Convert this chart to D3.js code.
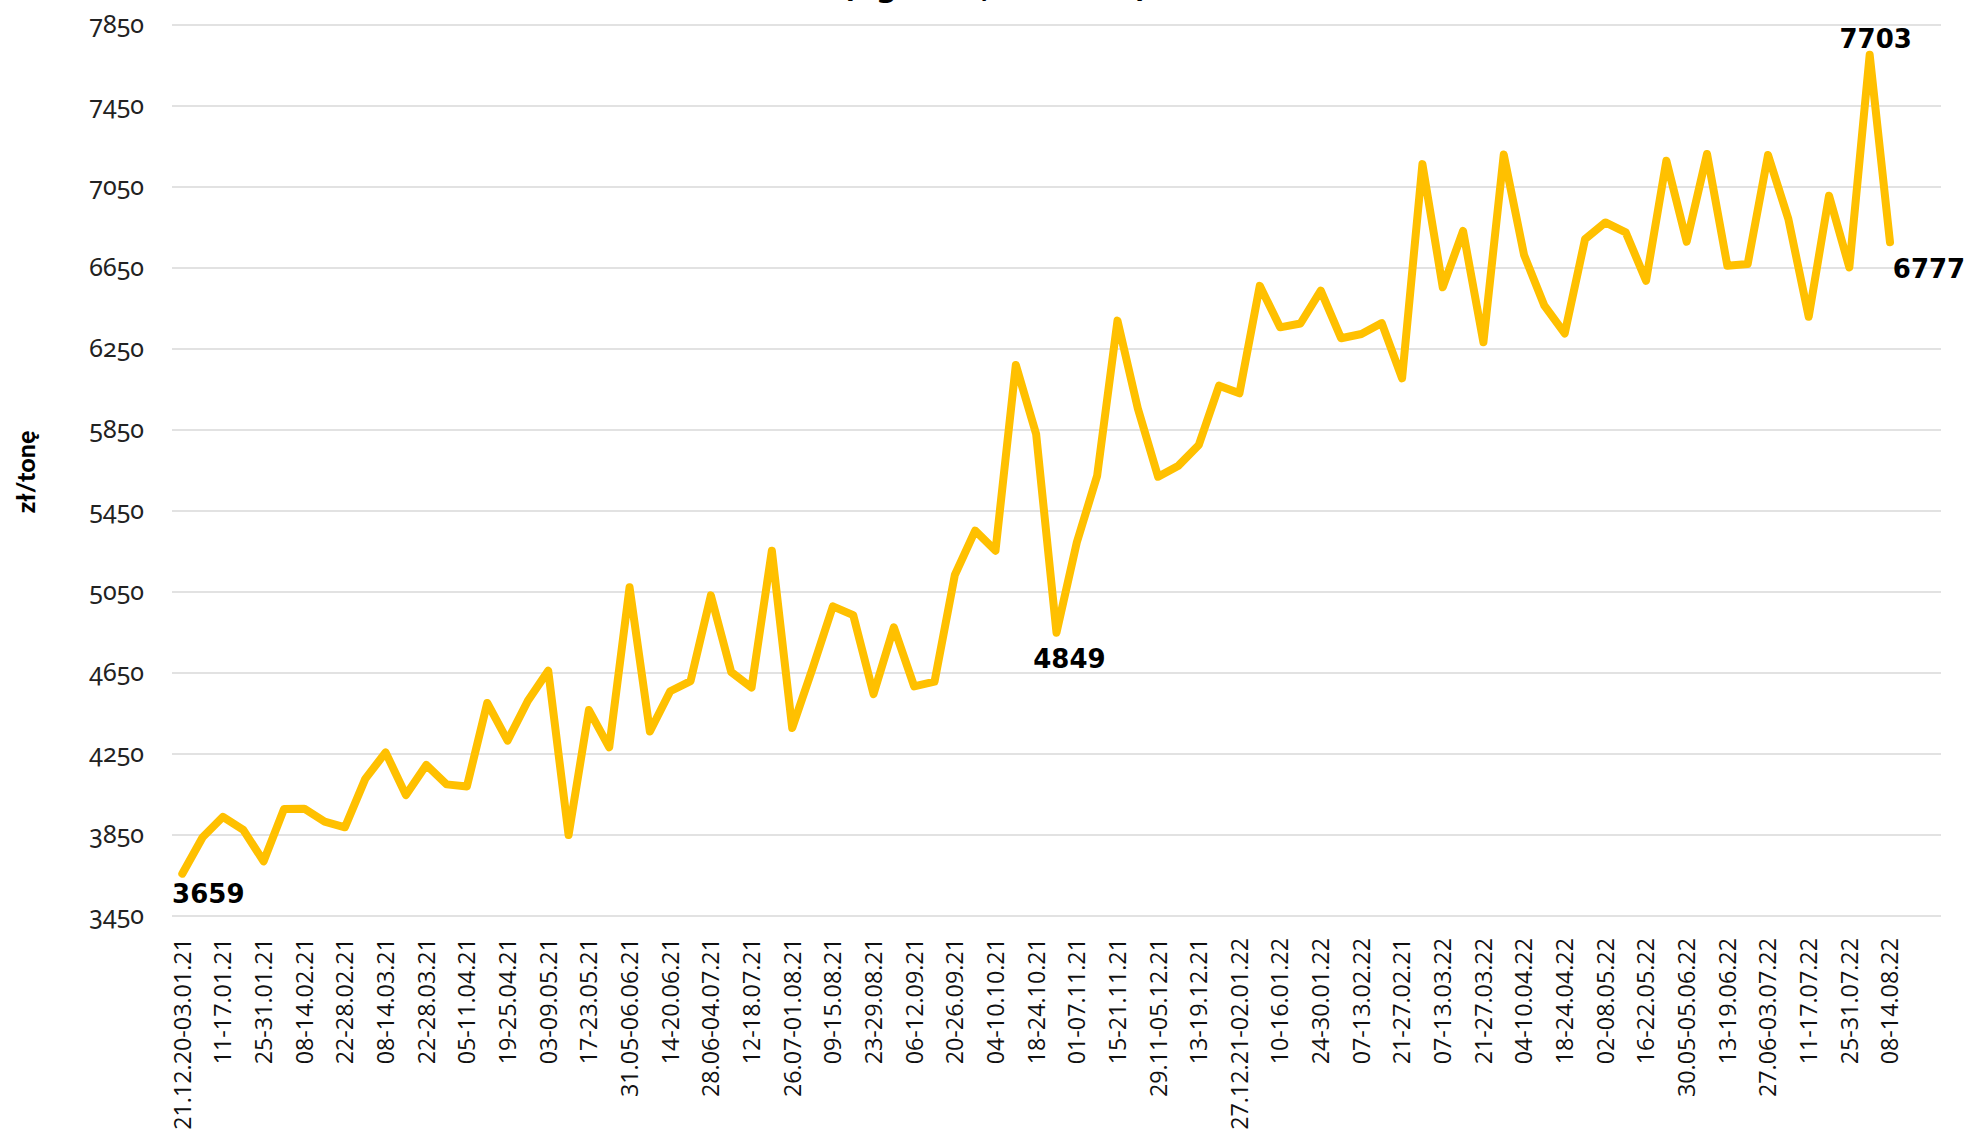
<!DOCTYPE html>
<html>
<head>
<meta charset="utf-8">
<script src="https://cdn.jsdelivr.net/npm/d3@7"></script>
<style>
  body { margin: 0; background: #fff; }
  #chart { width: 1971px; height: 1134px; overflow: hidden; }
</style>
</head>
<body>
<div id="chart"></div>
<script>
(function() {
  var width = 1971,
      height = 1134;

  // co drugi tydzien ma etykiete
  var weekLabels = ["21.12.20-03.01.21", "11-17.01.21", "25-31.01.21", "08-14.02.21", "22-28.02.21",
    "08-14.03.21", "22-28.03.21", "05-11.04.21", "19-25.04.21", "03-09.05.21", "17-23.05.21",
    "31.05-06.06.21", "14-20.06.21", "28.06-04.07.21", "12-18.07.21", "26.07-01.08.21", "09-15.08.21",
    "23-29.08.21", "06-12.09.21", "20-26.09.21", "04-10.10.21", "18-24.10.21", "01-07.11.21",
    "15-21.11.21", "29.11-05.12.21", "13-19.12.21", "27.12.21-02.01.22", "10-16.01.22", "24-30.01.22",
    "07-13.02.22", "21-27.02.21", "07-13.03.22", "21-27.03.22", "04-10.04.22", "18-24.04.22",
    "02-08.05.22", "16-22.05.22", "30.05-05.06.22", "13-19.06.22", "27.06-03.07.22", "11-17.07.22",
    "25-31.07.22", "08-14.08.22"]

  var prices = [3659, 3839, 3940, 3875, 3720, 3978, 3980, 3916, 3888, 4127,
    4258, 4047, 4196, 4100, 4090, 4502, 4316, 4513, 4661, 3850,
    4467, 4283, 5073, 4361, 4560, 4610, 5033, 4655, 4578, 5254,
    4378, 4672, 4979, 4936, 4546, 4876, 4584, 4607, 5134, 5353,
    5254, 6171, 5830, 4849, 5295, 5624, 6390, 5957, 5619, 5674,
    5776, 6069, 6031, 6562, 6357, 6376, 6538, 6303, 6324, 6378,
    6105, 7163, 6555, 6833, 6283, 7210, 6714, 6464, 6327, 6793,
    6875, 6826, 6587, 7180, 6780, 7213, 6661, 6670, 7208, 6892,
    6409, 7007, 6653, 7703, 6777]

  var yTicks = [3450, 3850, 4250, 4650, 5050, 5450, 5850, 6250, 6650, 7050, 7450, 7850]

  // etykiety danych: indeks punktu i przesuniecie tekstu
  var labelled = [
    {i: 0, dx: 26, dy: 29},
    {i: 43, dx: 13, dy: 35},
    {i: 83, dx: 6, dy: -7},
    {i: 84, dx: 39, dy: 36}
  ]

  var svg = d3.select("#chart")
    .append("svg")
    .attr("height", height)
    .attr("width", width)
    .append("g")
    .attr("transform", "translate(0,0)")

  var xScale = d3.scaleLinear().domain([0, prices.length - 1]).range([182.3, 1890])
  var yScale = d3.scaleLinear().domain([3450, 7850]).range([916, 25])

  // tytul (prawie caly poza kadrem)
  svg.append("text")
    .attr("x", 995)
    .attr("y", -3)
    .attr("text-anchor", "middle")
    .style("font-family", "DejaVu Sans")
    .style("font-weight", "bold")
    .style("font-size", "30px")
    .text("(ogółem, bez VAT)")

  svg.selectAll(".grid")
    .data(yTicks)
    .enter().append("line")
    .attr("class", "grid")
    .attr("x1", 172)
    .attr("x2", 1941)
    .attr("y1", function(d) { return yScale(d) })
    .attr("y2", function(d) { return yScale(d) })
    .attr("stroke", "#d9d9d9")
    .attr("stroke-width", 1.6)

  svg.selectAll(".y-label")
    .data(yTicks)
    .enter().append("text")
    .attr("class", "y-label")
    .attr("x", 144)
    .attr("y", function(d) { return yScale(d) })
    .attr("dy", "0.3em")
    .attr("text-anchor", "end")
    .style("font-family", "'Noto Sans'")
    .style("font-feature-settings", "'onum' 1")
    .style("font-size", "25px")
    .style("fill", "#222")
    .text(function(d) { return d })

  svg.append("text")
    .attr("transform", "translate(35,472) rotate(-90)")
    .attr("text-anchor", "middle")
    .style("font-family", "Lato")
    .style("font-weight", "900")
    .style("font-size", "25px")
    .text("zł/tonę")

  svg.selectAll(".x-label")
    .data(weekLabels)
    .enter().append("text")
    .attr("class", "x-label")
    .attr("transform", function(d, i) {
      return "translate(" + xScale(i * 2) + ",938) rotate(-90)"
    })
    .attr("dy", "0.36em")
    .attr("text-anchor", "end")
    .style("font-family", "'Open Sans'")
    .style("font-size", "23.3px")
    .style("fill", "#111")
    .text(function(d) { return d })

  var line = d3.line()
    .x(function(d, i) { return xScale(i) })
    .y(function(d) { return yScale(d) })

  svg.append("path")
    .datum(prices)
    .attr("d", line)
    .attr("fill", "none")
    .attr("stroke", "#FFC000")
    .attr("stroke-width", 8)
    .attr("stroke-linejoin", "round")
    .attr("stroke-linecap", "round")

  svg.selectAll(".value-label")
    .data(labelled)
    .enter().append("text")
    .attr("class", "value-label")
    .attr("x", function(d) { return xScale(d.i) + d.dx })
    .attr("y", function(d) { return yScale(prices[d.i]) + d.dy })
    .attr("text-anchor", "middle")
    .style("font-family", "'DejaVu Sans'")
    .style("font-weight", "bold")
    .style("font-size", "26px")
    .text(function(d) { return prices[d.i] })
})();
</script>
</body>
</html>
